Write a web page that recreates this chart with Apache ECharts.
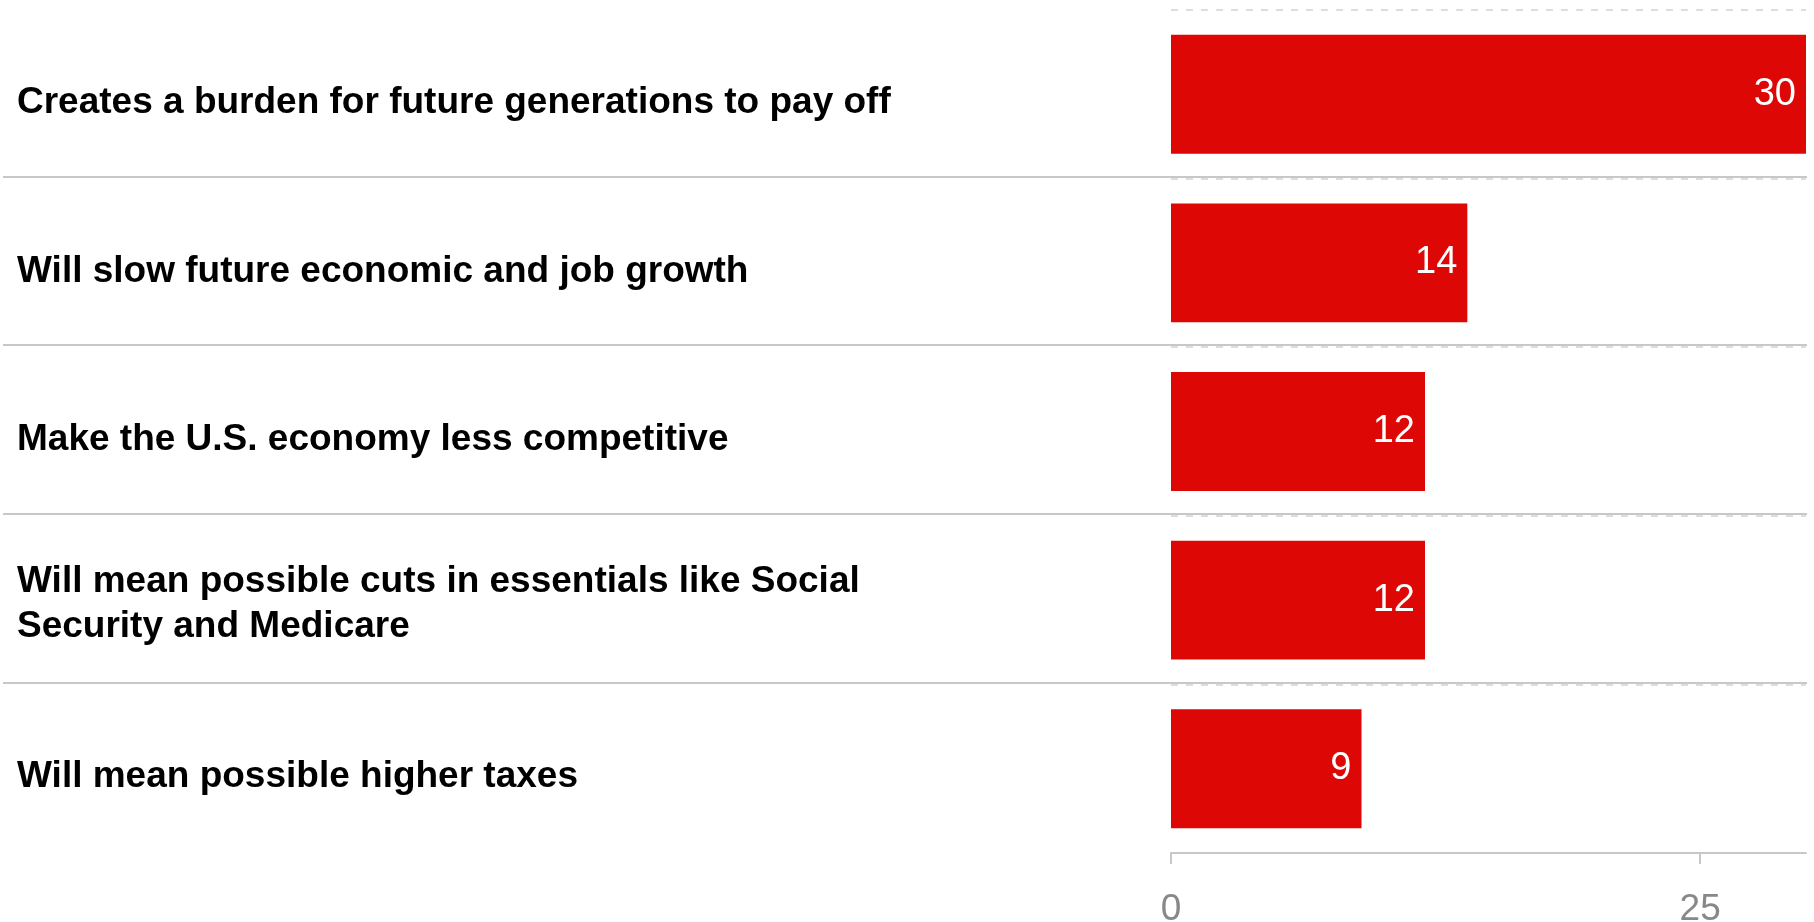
<!DOCTYPE html>
<html>
<head>
<meta charset="utf-8">
<script src="https://cdn.jsdelivr.net/npm/echarts@6/dist/echarts.min.js"></script>
<style>
html,body{margin:0;padding:0;background:#fff;}
#chart{width:1814px;height:922px;}
</style>
</head>
<body>
<div id="chart"></div>
<script>
const categories = [
  'Creates a burden for future generations to pay off',
  'Will slow future economic and job growth',
  'Make the U.S. economy less competitive',
  'Will mean possible cuts in essentials like Social\nSecurity and Medicare',
  'Will mean possible higher taxes'
];
const values = [30, 14, 12, 12, 9];
const tickValues = [0, 25];

const FONT = "'Liberation Sans', Arial, sans-serif";
const chart = echarts.init(document.getElementById('chart'), null, {renderer: 'canvas'});

const labelBase = {fontSize: 37, fontWeight: 'bold', color: '#000000', fontFamily: FONT, lineHeight: 45};

chart.setOption({
  animation: false,
  backgroundColor: '#ffffff',
  grid: [
    {left: 1171, right: 8, top: 10, bottom: 69, containLabel: false, outerBoundsMode: 'none'},
    {left: 3, right: 7, top: 8, bottom: 71, containLabel: false, outerBoundsMode: 'none'}
  ],
  xAxis: [
    {
      gridIndex: 0,
      type: 'value',
      min: 0,
      max: 30,
      interval: 25,
      axisLine: {show: true, lineStyle: {color: '#c8c8c8', width: 2}},
      axisTick: {show: true, length: 11, customValues: tickValues, lineStyle: {color: '#c8c8c8', width: 2}},
      axisLabel: {show: true, customValues: tickValues, margin: 38, fontSize: 37, color: '#888888', fontFamily: FONT},
      splitLine: {show: false}
    },
    {
      gridIndex: 1,
      type: 'value',
      min: 0,
      max: 30,
      show: false
    }
  ],
  yAxis: [
    {
      gridIndex: 0,
      type: 'category',
      data: categories,
      inverse: true,
      axisLine: {show: false},
      axisTick: {show: false},
      axisLabel: {
        show: true,
        align: 'left',
        margin: 1154,
        fontSize: 37,
        fontWeight: 'bold',
        color: '#000000',
        fontFamily: FONT,
        lineHeight: 45,
        formatter: function (v) {
          const lines = v.split('\n');
          if (lines.length === 1) return '{s|' + v + '}';
          return lines.map(function (l) { return '{m|' + l + '}'; }).join('\n');
        },
        rich: {
          s: Object.assign({padding: [17, 0, 0, 0]}, labelBase),
          m: Object.assign({padding: [9, 0, 0, 0]}, labelBase)
        }
      },
      splitLine: {show: true, lineStyle: {color: '#dddddd', width: 2, type: [7, 8]}}
    },
    {
      gridIndex: 1,
      type: 'category',
      data: categories,
      inverse: true,
      axisLine: {show: false},
      axisTick: {show: false},
      axisLabel: {show: false},
      splitLine: {show: true, showMinLine: false, showMaxLine: false, lineStyle: {color: '#c8c8c8', width: 2}}
    }
  ],
  series: [
    {
      type: 'bar',
      xAxisIndex: 0,
      yAxisIndex: 0,
      data: values,
      barWidth: '70.5%',
      itemStyle: {color: '#dd0806'},
      label: {
        show: true,
        position: 'insideRight',
        distance: 10,
        color: '#ffffff',
        fontSize: 38,
        fontFamily: FONT
      }
    }
  ]
});
</script>
</body>
</html>
